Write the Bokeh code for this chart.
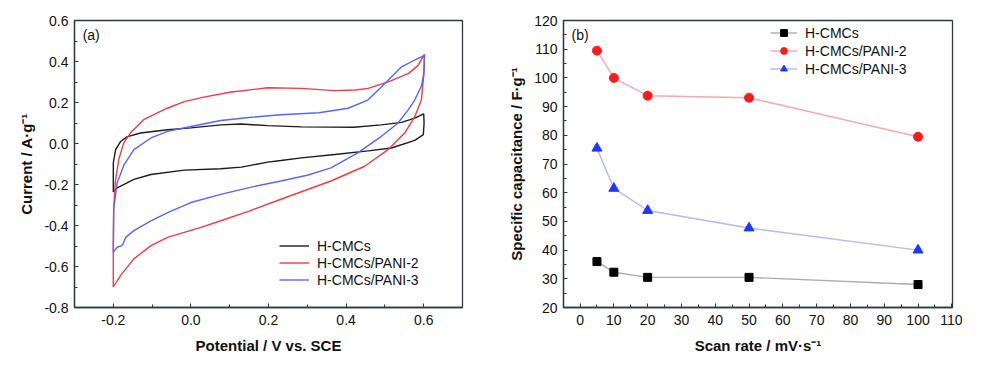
from bokeh.plotting import figure
from bokeh.layouts import row
from bokeh.models import Range1d, FixedTicker, PrintfTickFormatter, Label
from bokeh.embed import file_html
from bokeh.resources import INLINE

# ---- Panel (a): cyclic voltammograms (anodic sweep then cathodic sweep) ----
cv_hcmc_x = [-0.200, -0.200, -0.200, -0.194, -0.181, -0.165, -0.130, -0.060, 0.000, 0.077, 0.130, 0.198,
             0.285, 0.361, 0.420, 0.491, 0.543, 0.577, 0.600, 0.601, 0.599, 0.577, 0.517, 0.457, 0.371,
             0.285, 0.232, 0.198, 0.130, 0.077, -0.017, -0.103, -0.147, -0.190, -0.200]
cv_hcmc_y = [-0.237, -0.150, -0.094, -0.030, 0.010, 0.032, 0.051, 0.067, 0.076, 0.091, 0.095, 0.087,
             0.081, 0.080, 0.079, 0.091, 0.103, 0.124, 0.145, 0.100, 0.043, 0.015, -0.022, -0.036, -0.054,
             -0.070, -0.083, -0.091, -0.115, -0.123, -0.130, -0.151, -0.175, -0.216, -0.237]

cv_pani2_x = [-0.200, -0.200, -0.199, -0.195, -0.186, -0.173, -0.156, -0.122, -0.061, -0.017, 0.030, 0.100,
              0.198, 0.285, 0.371, 0.423, 0.457, 0.509, 0.561, 0.585, 0.602, 0.600, 0.594, 0.577, 0.551,
              0.508, 0.448, 0.361, 0.232, 0.150, 0.077, 0.026, -0.060, -0.103, -0.147, -0.181, -0.200]
cv_pani2_y = [-0.700, -0.500, -0.320, -0.191, -0.078, 0.003, 0.051, 0.116, 0.172, 0.204, 0.225, 0.250,
              0.272, 0.269, 0.258, 0.261, 0.269, 0.301, 0.342, 0.380, 0.435, 0.330, 0.212, 0.131, 0.051,
              -0.030, -0.111, -0.183, -0.272, -0.330, -0.377, -0.409, -0.458, -0.498, -0.563, -0.643, -0.700]

cv_pani3_x = [-0.200, -0.199, -0.190, -0.172, -0.147, -0.103, -0.060, 0.000, 0.077, 0.150, 0.232, 0.330,
              0.405, 0.456, 0.500, 0.543, 0.575, 0.602, 0.601, 0.594, 0.577, 0.560, 0.534, 0.491, 0.430,
              0.361, 0.300, 0.232, 0.150, 0.077, 0.000, -0.060, -0.103, -0.147, -0.168, -0.175, -0.178,
              -0.190, -0.200]
cv_pani3_y = [-0.530, -0.320, -0.191, -0.103, -0.030, 0.027, 0.059, 0.083, 0.112, 0.127, 0.140, 0.150,
              0.172, 0.212, 0.293, 0.374, 0.405, 0.430, 0.350, 0.280, 0.212, 0.164, 0.100, 0.035, -0.046,
              -0.119, -0.155, -0.183, -0.215, -0.248, -0.288, -0.337, -0.377, -0.425, -0.458, -0.490, -0.498,
              -0.506, -0.530]

# ---- Panel (b): specific capacitance vs scan rate ----
scan_rate = [5, 10, 20, 50, 100]
cap_hcmc = [36.0, 32.3, 30.5, 30.5, 28.0]
cap_pani2 = [109.5, 100.0, 93.8, 93.1, 79.5]
cap_pani3 = [75.5, 61.5, 53.8, 47.7, 40.0]

names = ["H-CMCs", "H-CMCs/PANI-2", "H-CMCs/PANI-3"]

FONT = "Liberation Sans"
FRAME = "#2f3b40"


def style(p, xt, xm, yt, ym, xfmt, yfmt, xlab, ylab):
    p.xaxis.ticker = FixedTicker(ticks=xt, minor_ticks=xm)
    p.yaxis.ticker = FixedTicker(ticks=yt, minor_ticks=ym)
    p.xaxis.formatter = PrintfTickFormatter(format=xfmt)
    p.yaxis.formatter = PrintfTickFormatter(format=yfmt)
    p.xaxis.axis_label = xlab
    p.yaxis.axis_label = ylab
    for ax in (p.xaxis[0], p.yaxis[0]):
        ax.major_tick_in = 4
        ax.major_tick_out = 0
        ax.minor_tick_in = 3
        ax.minor_tick_out = 0
        ax.axis_line_color = FRAME
        ax.axis_line_width = 1.3
        ax.major_tick_line_color = FRAME
        ax.minor_tick_line_color = FRAME
        ax.major_label_text_font = FONT
        ax.major_label_text_font_size = "14px"
        ax.major_label_text_color = "#111111"
        ax.axis_label_text_font = FONT
        ax.axis_label_text_font_size = "15px"
        ax.axis_label_text_font_style = "bold"
        ax.axis_label_text_color = "#111111"
    p.xaxis.major_label_standoff = 7
    p.yaxis.major_label_standoff = 6
    p.xaxis.axis_label_standoff = 9
    p.yaxis.axis_label_standoff = 6
    p.xgrid.visible = False
    p.ygrid.visible = False
    p.outline_line_color = FRAME
    p.outline_line_width = 1.3
    p.outline_line_alpha = 1.0


p1 = figure(width=472, height=364, x_range=Range1d(-0.3, 0.7), y_range=Range1d(-0.8, 0.6),
            output_backend="svg", toolbar_location=None,
            min_border_left=74, min_border_right=10, min_border_top=20, min_border_bottom=55)
style(p1, [-0.2, 0.0, 0.2, 0.4, 0.6], [-0.1, 0.1, 0.3, 0.5],
      [-0.8, -0.6, -0.4, -0.2, 0.0, 0.2, 0.4, 0.6], [-0.7, -0.5, -0.3, -0.1, 0.1, 0.3, 0.5],
      "%.1f", "%.1f", "Potential / V vs. SCE", "Current / A·g⁻¹")

p1.line(cv_hcmc_x, cv_hcmc_y, line_color="#1c1c1c", line_width=1.4, legend_label=names[0])
p1.line(cv_pani2_x, cv_pani2_y, line_color="#f23a42", line_width=1.4, legend_label=names[1])
p1.line(cv_pani3_x, cv_pani3_y, line_color="#5865ff", line_width=1.4, legend_label=names[2])

lg1 = p1.legend[0]
lg1.location = (205, 19)
lg1.padding = 0
lg1.margin = 0
lg1.spacing = 0
lg1.border_line_alpha = 0
lg1.background_fill_alpha = 0
lg1.glyph_width = 30
lg1.glyph_height = 17
lg1.label_height = 17
lg1.label_standoff = 8
lg1.label_text_font = FONT
lg1.label_text_font_size = "14px"
lg1.label_text_color = "#111111"

p1.add_layout(Label(x=-0.279, y=0.527, text="(a)", text_font=FONT, text_font_size="14px",
                    text_baseline="middle", text_color="#111111"))

p2 = figure(width=490, height=364, x_range=Range1d(-4.9, 110.2), y_range=Range1d(20, 120),
            output_backend="svg", toolbar_location=None,
            min_border_left=91, min_border_right=10, min_border_top=17, min_border_bottom=57)
style(p2, list(range(0, 111, 10)), list(range(5, 110, 10)),
      list(range(20, 121, 10)), list(range(25, 120, 10)),
      "%d", "%d", "Scan rate / mV·s⁻¹", "Specific capacitance / F·g⁻¹")

p2.line(scan_rate, cap_hcmc, line_color="#a7b0a8", line_width=1.4, legend_label=names[0])
p2.scatter(scan_rate, cap_hcmc, marker="square", size=8, fill_color="#000000", line_color="#000000",
           legend_label=names[0])
p2.line(scan_rate, cap_pani2, line_color="#f6a7b0", line_width=1.4, legend_label=names[1])
p2.scatter(scan_rate, cap_pani2, marker="circle", size=9, fill_color="#ff1a1a", line_color="#ff1a1a",
           legend_label=names[1])
p2.line(scan_rate, cap_pani3, line_color="#b4b9f4", line_width=1.4, legend_label=names[2])
p2.scatter(scan_rate, cap_pani3, marker="triangle", size=10, fill_color="#1f36ff", line_color="#1f36ff",
           legend_label=names[2])

lg2 = p2.legend[0]
lg2.location = (207, 230)
lg2.padding = 0
lg2.margin = 0
lg2.spacing = 1
lg2.border_line_alpha = 0
lg2.background_fill_alpha = 0
lg2.glyph_width = 27
lg2.glyph_height = 17
lg2.label_height = 17
lg2.label_standoff = 8
lg2.label_text_font = FONT
lg2.label_text_font_size = "14px"
lg2.label_text_color = "#111111"

p2.add_layout(Label(x=-2.54, y=114.9, text="(b)", text_font=FONT, text_font_size="14px",
                    text_baseline="middle", text_color="#111111"))

layout = row(p1, p2)
open("out.html", "w").write(file_html(layout, INLINE))
